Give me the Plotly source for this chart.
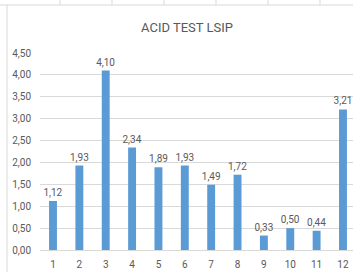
import plotly.graph_objects as go

categories = ["1", "2", "3", "4", "5", "6", "7", "8", "9", "10", "11", "12"]
values = [1.12, 1.93, 4.10, 2.34, 1.89, 1.93, 1.49, 1.72, 0.33, 0.50, 0.44, 3.21]
y_ticks = [0, 0.5, 1.0, 1.5, 2.0, 2.5, 3.0, 3.5, 4.0, 4.5]
title_text = "ACID TEST LSIP"

W, H = 353, 272
L, R, T, B = 40, 0, 53, 22
pw, ph = W - L - R, H - T - B

def px(x):
    return (x - L) / pw

def py(y):
    return (H - B - y) / ph

FONT = "Liberation Sans Narrow, Arial Narrow, Roboto, sans-serif"
GREY = "#595959"
GRID = "#d9d9d9"

fig = go.Figure(go.Bar(
    x=categories, y=values,
    marker=dict(color="#5B9BD5", line=dict(width=0)),
    width=0.3,
    texttemplate="%{y:.2f}", textposition="outside",
    constraintext="none",
    textfont=dict(size=10, color=GREY, family=FONT),
    cliponaxis=False,
))

shapes = []
# spreadsheet cell grid around chart object
shapes.append(dict(type="line", xref="paper", yref="paper",
                   x0=px(0), x1=px(W), y0=py(5), y1=py(5),
                   line=dict(color=GRID, width=1)))
shapes.append(dict(type="line", xref="paper", yref="paper",
                   x0=px(7), x1=px(7), y0=py(5), y1=py(H),
                   line=dict(color=GRID, width=1)))
for xv in [60, 112, 164, 216, 268, 320]:
    shapes.append(dict(type="line", xref="paper", yref="paper",
                       x0=px(xv), x1=px(xv), y0=py(0), y1=py(5),
                       line=dict(color=GRID, width=1)))

fig.update_layout(
    width=W, height=H,
    margin=dict(l=L, r=R, t=T, b=B),
    paper_bgcolor="white", plot_bgcolor="white",
    separators=", ",
    showlegend=False,
    title=dict(text=title_text, x=187 / W, xref="container", xanchor="center",
               y=1 - 27 / H, yanchor="middle",
               font=dict(size=13, color=GREY, family=FONT)),
    xaxis=dict(type="category", range=[-0.493, 11.38], showgrid=False,
               showline=False, ticks="outside", ticklen=5, tickcolor="rgba(0,0,0,0)",
               tickfont=dict(size=10, color=GREY, family=FONT), fixedrange=True),
    yaxis=dict(range=[0, 4.5], tickvals=y_ticks, tickformat=".2f",
               showgrid=True, gridcolor=GRID, gridwidth=1,
               zeroline=True, zerolinecolor=GRID, zerolinewidth=1,
               showline=False, ticks="outside", ticklen=6, tickcolor="rgba(0,0,0,0)",
               tickfont=dict(size=10, color=GREY, family=FONT), fixedrange=True),
    shapes=shapes,
    bargap=0.7,
)

fig.write_html("out.html", config={"displayModeBar": False},
               post_script="document.body.style.margin='0';")
